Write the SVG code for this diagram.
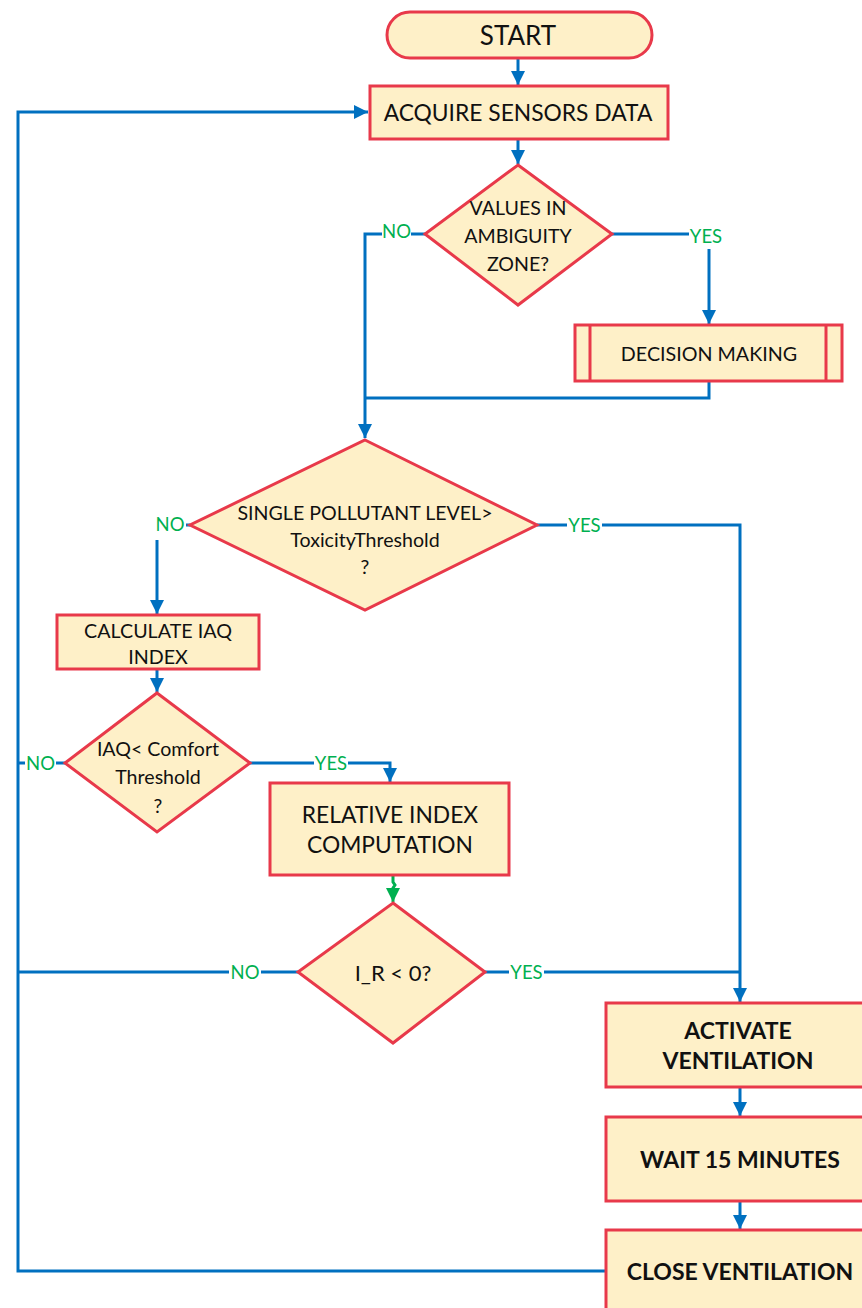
<svg xmlns="http://www.w3.org/2000/svg" width="862" height="1308" viewBox="0 0 862 1308">
<style>
.n{fill:#FEF0C8;stroke:#E8394A;stroke-width:3}
.c{fill:none;stroke:#0070C0;stroke-width:3}
.g{fill:none;stroke:#00B050;stroke-width:3}
.t{font-family:Lato,"Open Sans",sans-serif;fill:#111;text-anchor:middle;dominant-baseline:central}
.b{font-weight:bold}
.l{font-family:Lato,"Open Sans",sans-serif;fill:#00B050;font-size:18.5px;text-anchor:middle;dominant-baseline:central}
</style>
<defs>
<marker id="a" markerUnits="userSpaceOnUse" markerWidth="16" markerHeight="16" refX="14" refY="8" orient="auto"><path d="M0,1 L14,8 L0,15 Z" fill="#0070C0"/></marker>
<marker id="ag" markerUnits="userSpaceOnUse" markerWidth="16" markerHeight="16" refX="14" refY="8" orient="auto"><path d="M0,1 L14,8 L0,15 Z" fill="#00B050"/></marker>
</defs>
<rect width="862" height="1308" fill="#fff"/>
<g id="connectors">
<path class="c" d="M518,58 V85" marker-end="url(#a)"/>
<path class="c" d="M518,139 V164" marker-end="url(#a)"/>
<path class="c" d="M425,234 H411 M382,234 H365 V438" marker-end="url(#a)"/>
<path class="c" d="M612,234 H689"/>
<path class="c" d="M709,249 V324" marker-end="url(#a)"/>
<path class="c" d="M709,381 V398 H365"/>
<path class="c" d="M190,525 H186"/>
<path class="c" d="M157,540 V614" marker-end="url(#a)"/>
<path class="c" d="M537,525 H567 M602,525 H740 V1002" marker-end="url(#a)"/>
<path class="c" d="M157,669 V692" marker-end="url(#a)"/>
<path class="c" d="M65,763 H56 M25,763 H18"/>
<path class="c" d="M250,763 H314 M348,763 H390 V782" marker-end="url(#a)"/>
<path class="g" d="M393,875 V882 L395,885 L393,888 V902" marker-end="url(#ag)"/>
<path class="c" d="M298,972 H261 M229,972 H18"/>
<path class="c" d="M485,972 H509 M544,972 H740"/>
<path class="c" d="M740,1087 V1116" marker-end="url(#a)"/>
<path class="c" d="M740,1201 V1229" marker-end="url(#a)"/>
<path class="c" d="M606,1271 H18 V112 H368" marker-end="url(#a)"/>
</g>
<g id="start"><rect class="n" x="387" y="12" width="265" height="46" rx="23"/><text class="t" x="518" y="35" font-size="26">START</text></g>
<g id="acquire"><rect class="n" x="370" y="86" width="298" height="53"/><text class="t" x="518" y="112" font-size="22.8">ACQUIRE SENSORS DATA</text></g>
<g id="ambiguity"><polygon class="n" points="518,165 612,234 518,305 425,234"/>
<text class="t" x="518" y="207" font-size="19.6">VALUES IN</text><text class="t" x="518" y="235" font-size="19.6">AMBIGUITY</text><text class="t" x="518" y="263" font-size="19.6">ZONE?</text></g>
<g id="decision"><rect class="n" x="575" y="325" width="267" height="56"/><path class="n" d="M590,325 V381 M826,325 V381"/><text class="t" x="709" y="353" font-size="19.7">DECISION MAKING</text></g>
<g id="toxicity"><polygon class="n" points="365,440 537,525 365,610 190,525"/>
<text class="t" x="365" y="512" font-size="19.6">SINGLE POLLUTANT LEVEL&gt;</text><text class="t" x="365" y="539" font-size="19.6">ToxicityThreshold</text><text class="t" x="365" y="566" font-size="19.6">?</text></g>
<g id="calc"><rect class="n" x="57" y="615" width="202" height="54"/><text class="t" x="158" y="630" font-size="19.7">CALCULATE IAQ</text><text class="t" x="158" y="656" font-size="19.7">INDEX</text></g>
<g id="comfort"><polygon class="n" points="157,693 250,763 157,832 65,763"/>
<text class="t" x="158" y="748" font-size="19.6">IAQ&lt; Comfort</text><text class="t" x="158" y="776" font-size="19.6">Threshold</text><text class="t" x="158" y="805" font-size="19.6">?</text></g>
<g id="relative"><rect class="n" x="270" y="783" width="239" height="92"/><text class="t" x="390" y="814" font-size="22.8">RELATIVE INDEX</text><text class="t" x="390" y="844" font-size="22.8">COMPUTATION</text></g>
<g id="ir"><polygon class="n" points="393,903 485,972 393,1043 298,972"/><text class="t" x="393" y="972" font-size="22">I_R &lt; 0?</text></g>
<g id="activate"><rect class="n" x="606" y="1003" width="270" height="84"/><text class="t b" x="738" y="1030" font-size="23">ACTIVATE</text><text class="t b" x="738" y="1060" font-size="23">VENTILATION</text></g>
<g id="wait"><rect class="n" x="606" y="1117" width="270" height="84"/><text class="t b" x="740" y="1159" font-size="23">WAIT 15 MINUTES</text></g>
<g id="close"><rect class="n" x="606" y="1230" width="270" height="90"/><text class="t b" x="740" y="1271" font-size="23">CLOSE VENTILATION</text></g>
<g id="labels">
<text class="l" x="396.5" y="231">NO</text>
<text class="l" x="706" y="236">YES</text>
<text class="l" x="170" y="524">NO</text>
<text class="l" x="584.5" y="525">YES</text>
<text class="l" x="40.5" y="763">NO</text>
<text class="l" x="331" y="763">YES</text>
<text class="l" x="245" y="972">NO</text>
<text class="l" x="526.5" y="972">YES</text>
</g>
</svg>
